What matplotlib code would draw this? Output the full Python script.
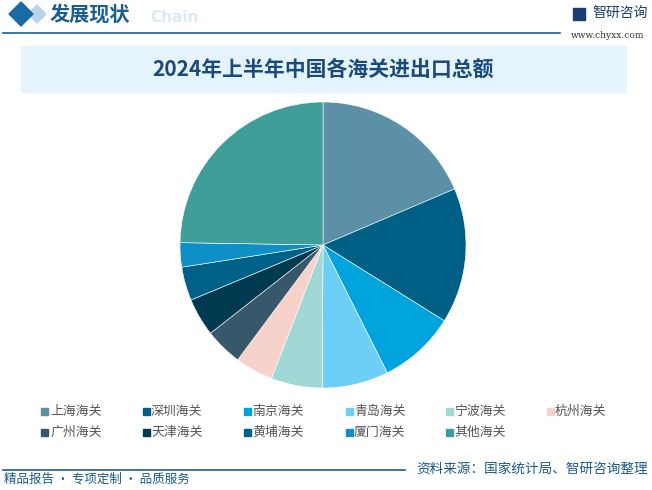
import matplotlib.pyplot as plt
from matplotlib.patches import Polygon, Rectangle
from matplotlib.lines import Line2D

plt.rcParams['font.family'] = ['Noto Sans CJK SC', 'DejaVu Sans']

# 2024年上半年各海关进出口总额（亿元，按图估读）
customs = ['上海海关', '深圳海关', '南京海关', '青岛海关', '宁波海关', '杭州海关',
           '广州海关', '天津海关', '黄埔海关', '厦门海关', '其他海关']
values = [39380, 32400, 18420, 15880, 12280, 9100, 9000, 9110, 8040, 5820, 52400]
colors = ['#5b90a6', '#005f85', '#00a4dc', '#6dcff6', '#a1d8d6', '#f6d2ca',
          '#37586a', '#003a50', '#006188', '#0f8fc8', '#3f9e98']

W, H = 652, 490
fig = plt.figure(figsize=(W / 100, H / 100), dpi=100)
fig.patch.set_facecolor('white')


def fx(x):
    return x / W


def fy(y):
    return 1 - y / H


# header
fig.patches.append(Polygon([(fx(28), fy(14)), (fx(37), fy(5)), (fx(46), fy(14)), (fx(37), fy(23))],
                           closed=True, transform=fig.transFigure, color='#b8d4ea'))
fig.patches.append(Polygon([(fx(9), fy(14)), (fx(21), fy(2)), (fx(33), fy(14)), (fx(21), fy(26))],
                           closed=True, transform=fig.transFigure, color='#1a6aa8'))
fig.text(fx(50), fy(14), '发展现状', fontsize=14.5, fontweight='bold', color='#1a5d8f', va='center', ha='left')
fig.text(fx(150), fy(18), 'Chain', fontsize=11, fontweight='bold', color='#dce8f2', va='center', ha='left',
         family='DejaVu Sans')
fig.lines.append(Line2D([fx(3), fx(560)], [fy(33), fy(33)], transform=fig.transFigure, color='#1a5d8f', lw=1.2))
fig.patches.append(Rectangle((fx(573), fy(20)), fx(12), 12 / H, transform=fig.transFigure, color='#1a3d6e'))
fig.text(fx(592), fy(13), '智研咨询', fontsize=10, color='#1a3d6e', va='center', ha='left')
fig.text(fx(608), fy(35), 'www.chyxx.com', fontsize=6.5, color='#333333', va='center', ha='center',
         family='DejaVu Serif')

# title band
fig.patches.append(Rectangle((fx(21), fy(92)), fx(626 - 21), 46 / H, transform=fig.transFigure,
                             color='#e4f3fc', zorder=0))
fig.text(fx(323), fy(69), '2024年上半年中国各海关进出口总额', fontsize=15, fontweight='bold',
         color='#1a4a7a', va='center', ha='center')

# pie
r = 143
ax = fig.add_axes([fx(323 - r), fy(245 + r), 2 * r / W, 2 * r / H])
ax.pie(values, colors=colors, startangle=90, counterclock=False, radius=1,
       wedgeprops=dict(edgecolor='white', linewidth=0.4))
ax.set_xlim(-1, 1)
ax.set_ylim(-1, 1)
ax.set_aspect('auto')
ax.axis('off')

# legend
col_x = [45, 146, 247, 349, 449, 550]
row_y = [411, 432]
for i, (name, c) in enumerate(zip(customs, colors)):
    x = col_x[i % 6]
    y = row_y[i // 6]
    fig.patches.append(Rectangle((fx(x - 3.5), fy(y + 3.5)), 7 / W, 7 / H, transform=fig.transFigure, color=c))
    fig.text(fx(x + 5), fy(y), name, fontsize=9.3, color='#555555', va='center', ha='left')

# footer
fig.lines.append(Line2D([fx(3), fx(405)], [fy(470), fy(470)], transform=fig.transFigure, color='#1a5d8f', lw=1.2))
fig.text(fx(648), fy(469), '资料来源：国家统计局、智研咨询整理', fontsize=9.8, color='#1a5a8a', va='center', ha='right')
fig.text(fx(4), fy(479), '精品报告 · 专项定制 · 品质服务', fontsize=9, color='#1a5a8a', va='center', ha='left')

fig.savefig('out.png', dpi=100, facecolor='white')
